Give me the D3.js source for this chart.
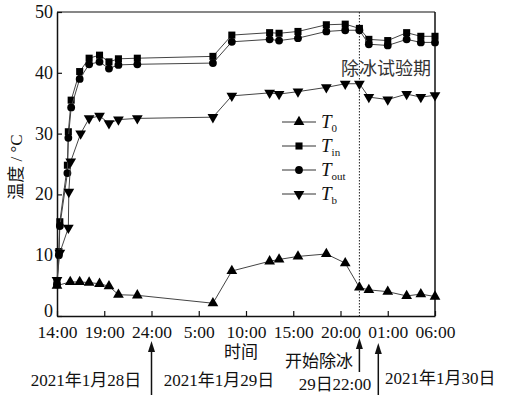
<!DOCTYPE html>
<html>
<head>
<meta charset="utf-8">
<script src="https://cdn.jsdelivr.net/npm/d3@7"></script>
<style>
  body { margin: 0; background: #fff; }
  text { font-family: "Liberation Serif", "Noto Sans CJK SC", serif; fill: #111; }
</style>
</head>
<body>
<script>
// hours after 14:00 on 28 Jan
var xTicks = [0, 5, 10, 15, 20, 25, 30, 35, 40];
var xTickLabels = ["14:00", "19:00", "24:00", "5:00", "10:00", "15:00", "20:00", "01:00", "06:00"];
var yTicks = [0, 10, 20, 30, 40, 50];

var hoursIn = [0, 0.2, 0.3, 1.1, 1.2, 1.5, 2.4, 3.4, 4.5, 5.5, 6.5, 8.5, 16.5, 18.5, 22.5, 23.5, 25.5, 28.5, 30.5, 32, 33, 35, 37, 38.5, 40];
var tIn  = [5.5, 10.6, 15.5, 24.8, 30.3, 35.5, 40.2, 42.4, 42.9, 41.8, 42.3, 42.4, 42.7, 46.2, 46.6, 46.5, 46.8, 47.9, 48.0, 47.3, 45.5, 45.3, 46.6, 46.0, 46.0];
var tOut = [5.2, 10.0, 14.8, 23.5, 29.3, 34.3, 39.0, 41.4, 41.8, 40.7, 41.3, 41.4, 41.6, 45.1, 45.5, 45.3, 45.7, 46.8, 47.0, 47.0, 44.7, 44.5, 45.5, 45.0, 45.0];

var hoursB = [0, 0.3, 1.2, 1.25, 1.45, 2.5, 3.4, 4.5, 5.5, 6.5, 8.5, 16.5, 18.5, 22.5, 23.5, 25.5, 28.5, 30.5, 32, 33, 35, 37, 38.5, 40];
var tB = [5.9, 10.4, 14.5, 20.4, 25.4, 30.0, 32.5, 32.9, 31.7, 32.3, 32.5, 32.7, 36.2, 36.7, 36.5, 36.9, 37.6, 38.2, 38.2, 36.0, 35.6, 36.5, 36.0, 36.3];

var hours0 = [0, 1.4, 2.4, 3.4, 4.5, 5.5, 6.5, 8.5, 16.5, 18.5, 22.5, 23.5, 25.5, 28.5, 30.5, 32, 33, 35, 37, 38.5, 40];
var t0 = [5.0, 5.6, 5.6, 5.5, 5.3, 4.9, 3.5, 3.4, 2.1, 7.4, 9.0, 9.3, 9.8, 10.2, 8.7, 4.7, 4.3, 4.0, 3.3, 3.6, 3.2];

var deiceHour = 32;
var arrowHours = [10, 32, 34];

var width = 509, height = 395;
var svg = d3.select("body").append("svg").attr("width", width).attr("height", height);

var x = d3.scaleLinear().domain([0, 40]).range([57, 435]);
var y = d3.scaleLinear().domain([0, 50]).range([316, 12]);

var series = [
  { name: "0",   h: hours0,  v: t0,   sym: d3.symbolTriangle, size: 50, rot: 0 },
  { name: "in",  h: hoursIn, v: tIn,  sym: d3.symbolSquare,   size: 50, rot: 0 },
  { name: "out", h: hoursIn, v: tOut, sym: d3.symbolCircle,   size: 48, rot: 0 },
  { name: "b",   h: hoursB,  v: tB,   sym: d3.symbolTriangle, size: 50, rot: 180 }
];

// frame
svg.append("line").attr("x1", x(0)).attr("x2", x(40)).attr("y1", y(50)).attr("y2", y(50))
  .attr("stroke", "#111").attr("stroke-width", 1.2);
svg.append("line").attr("x1", x(40)).attr("x2", x(40)).attr("y1", y(50)).attr("y2", y(0))
  .attr("stroke", "#111").attr("stroke-width", 1.5);

// deicing divider
svg.append("line").attr("x1", x(deiceHour)).attr("x2", x(deiceHour)).attr("y1", y(50)).attr("y2", y(0))
  .attr("stroke", "#222").attr("stroke-width", 1).attr("stroke-dasharray", "1.5,1.5");

var xAxis = d3.axisBottom(x).tickValues(xTicks).tickSizeInner(-5).tickSizeOuter(0).tickPadding(10)
  .tickFormat(function (d, i) { return xTickLabels[i]; });
var gx = svg.append("g").attr("transform", "translate(0," + y(0) + ")").call(xAxis);
gx.selectAll("text").style("font-size", "17.5px").attr("fill", "#111");

var yAxis = d3.axisLeft(y).tickValues(yTicks).tickSizeInner(-5).tickSizeOuter(0).tickPadding(4);
var gy = svg.append("g").attr("transform", "translate(" + x(0) + ",0)").call(yAxis);
gy.selectAll("text").style("font-size", "18px").attr("fill", "#111")
  .attr("dy", function (d) { return d === 0 ? "0.05em" : "0.3em"; });

svg.selectAll(".domain").attr("stroke", "#111").attr("stroke-width", 1.5);
svg.selectAll(".tick line").attr("stroke", "#111").attr("stroke-width", 1.2);

// lines and markers
var line = d3.line().x(function (d) { return x(d[0]); }).y(function (d) { return y(d[1]); });
series.forEach(function (s) {
  var pts = s.h.map(function (h, i) { return [h, s.v[i]]; });
  svg.append("path").datum(pts).attr("d", line)
    .attr("fill", "none").attr("stroke", "#444").attr("stroke-width", 1);
  svg.append("g").selectAll("path").data(pts).enter().append("path")
    .attr("d", d3.symbol().type(s.sym).size(s.size))
    .attr("transform", function (d) {
      return "translate(" + x(d[0]) + "," + y(d[1]) + ") rotate(" + s.rot + ")";
    })
    .attr("fill", "#000");
});

// legend
var legend = svg.append("g").attr("transform", "translate(282,122)");
series.forEach(function (s, i) {
  var g = legend.append("g").attr("transform", "translate(0," + i * 24 + ")");
  g.append("line").attr("x1", 0).attr("x2", 34).attr("stroke", "#333").attr("stroke-width", 1);
  g.append("path").attr("d", d3.symbol().type(s.sym).size(s.size))
    .attr("transform", "translate(17,0) rotate(" + s.rot + ")").attr("fill", "#000");
  var t = g.append("text").attr("x", 39).attr("y", 6).style("font-size", "19px");
  t.append("tspan").style("font-style", "italic").text("T");
  t.append("tspan").attr("dy", 4).style("font-size", "11px").text(s.name);
});

// labels
svg.append("text").attr("transform", "translate(22,167) rotate(-90)")
  .attr("text-anchor", "middle").style("font-size", "17px").text("温度 / °C");
svg.append("text").attr("x", 241).attr("y", 358).attr("text-anchor", "middle")
  .style("font-size", "17px").text("时间");
svg.append("text").attr("x", 386).attr("y", 75).attr("text-anchor", "middle")
  .style("font-size", "18px").style("fill", "#333").text("除冰试验期");

// arrows below the axis
var arrowTops = [341, 338, 343];
var arrowBottoms = [395, 372, 395];
arrowHours.forEach(function (h, i) {
  var ax = x(h);
  svg.append("line").attr("x1", ax).attr("x2", ax).attr("y1", arrowTops[i] + 8).attr("y2", arrowBottoms[i])
    .attr("stroke", "#111").attr("stroke-width", 1.5);
  svg.append("path")
    .attr("d", "M" + ax + "," + arrowTops[i] + "L" + (ax - 3.5) + "," + (arrowTops[i] + 11) + "L" + (ax + 3.5) + "," + (arrowTops[i] + 11) + "Z")
    .attr("fill", "#111");
});

var notes = [
  { text: "2021年1月28日", x: 86, y: 386, anchor: "middle" },
  { text: "2021年1月29日", x: 219, y: 386, anchor: "middle" },
  { text: "开始除冰", x: 353, y: 367, anchor: "end" },
  { text: "29日22:00", x: 335, y: 390, anchor: "middle" },
  { text: "2021年1月30日", x: 385, y: 384, anchor: "start" }
];
svg.selectAll(".note").data(notes).enter().append("text")
  .attr("class", "note")
  .attr("x", function (d) { return d.x; })
  .attr("y", function (d) { return d.y; })
  .attr("text-anchor", function (d) { return d.anchor; })
  .style("font-size", "17px")
  .text(function (d) { return d.text; });
</script>
</body>
</html>
